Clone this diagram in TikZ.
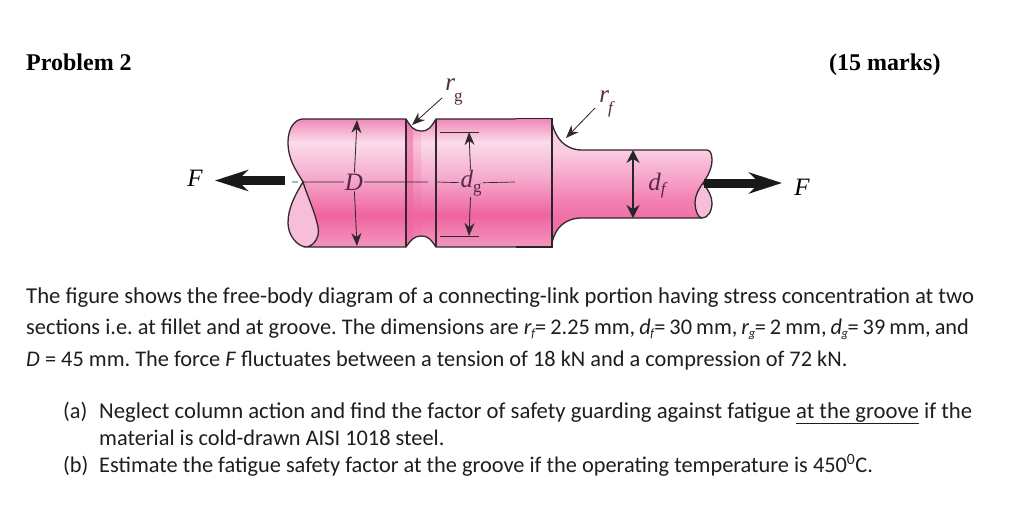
\documentclass[tikz,border=0pt]{standalone}
\usepackage{fontspec}
\setmainfont{Carlito}
\newfontfamily\figfont{Liberation Serif}
\usetikzlibrary{arrows.meta}
\definecolor{pinkA}{RGB}{243,150,190}
\definecolor{pinkB}{RGB}{238,100,160}
\definecolor{pinkC}{RGB}{245,170,205}
\definecolor{pinkD}{RGB}{251,220,233}
\definecolor{pinkE}{RGB}{240,135,185}
\definecolor{pinkF}{RGB}{240,110,165}
\definecolor{pinkG}{RGB}{243,130,180}
\definecolor{pinkH}{RGB}{247,175,208}
\definecolor{pinkI}{RGB}{250,205,225}
\definecolor{facepink}{RGB}{246,190,216}
\definecolor{outline}{RGB}{50,40,45}
\definecolor{labelpink}{RGB}{85,40,70}
\definecolor{bodytext}{RGB}{30,30,30}
\pgfdeclareverticalshading{shaftbig}{100bp}{color(0bp)=(pinkA); color(25bp)=(pinkA); color(37.5bp)=(pinkB); color(52bp)=(pinkC); color(66bp)=(pinkD); color(75bp)=(pinkE); color(100bp)=(pinkE)}
\pgfdeclareverticalshading{shaftsmall}{100bp}{color(0bp)=(pinkF); color(35bp)=(pinkF); color(43bp)=(pinkG); color(55bp)=(pinkH); color(63bp)=(pinkI); color(100bp)=(pinkI)}
\newcommand{\subtxt}[2]{\textit{#1}\kern-0.5pt\raisebox{-3pt}{\fontsize{12.5}{14}\selectfont\textit{#2}}\kern-0.5pt}
\frenchspacing
\tikzset{
	txt/.style={anchor=base west, inner sep=0pt, text=bodytext, font=\fontsize{22.35}{26}\selectfont},
	txtwide/.style={txt, font=\fontsize{22.7}{26}\selectfont},
	head/.style={anchor=base west, inner sep=0pt, font=\figfont\bfseries\fontsize{24}{28}\selectfont},
	lab/.style={inner sep=1pt, font=\figfont\itshape\fontsize{25}{28}\selectfont},
	shaftline/.style={draw=outline, line width=1.3pt},
	dimarrow/.style={-{Stealth[length=13pt,width=10pt]}, line width=0.8pt, draw=outline, fill=outline},
	loadarrow/.style={-{Stealth[length=33pt,width=21pt]}, line width=9pt, black!90}
}
\begin{document}
\begin{tikzpicture}[x=1pt,y=-1pt]
	\useasboundingbox[fill=white] (0,0) rectangle (1010,504);
	% shaft
	\path[shading=shaftbig] (303,119)--(406,119) .. controls (411,127) and (414,131) .. (421,131) .. controls (429,131) and (431,127) .. (436,119)--(552,119)--(552,247)--(436,247) .. controls (431,240) and (429,236) .. (421,236) .. controls (414,236) and (411,240) .. (406,247)--(307,247) .. controls (315,245) and (320,236) .. (318,227) .. controls (315,212) and (307,195) .. (303,182) .. controls (296,170) and (288,160) .. (288,142) .. controls (288,128) and (295,119) .. (303,119)--cycle;
	\path[shading=shaftsmall] (552,122) .. controls (555,138) and (565,150) .. (582,150)--(707,150) .. controls (711,150) and (712,156) .. (712,160) .. controls (712,168) and (708,176) .. (703,183) .. controls (698,190) and (695,196) .. (695,203) .. controls (695,210) and (698,218) .. (702,218)--(582,218) .. controls (565,218) and (555,228) .. (552,243)--cycle;
	% end faces
	\path[fill=facepink] (303,182) .. controls (295,195) and (288,208) .. (288,223) .. controls (288,235) and (297,247) .. (307,247) .. controls (315,245) and (320,236) .. (318,227) .. controls (315,212) and (307,195) .. (303,182)--cycle;
	\path[fill=facepink] (703,183) .. controls (708,190) and (712,196) .. (712,203) .. controls (712,211) and (708,218) .. (702,218) .. controls (698,218) and (695,210) .. (695,203) .. controls (695,196) and (698,190) .. (703,183)--cycle;
	% groove band
	\path[fill=pinkB, opacity=0.6] (407,121) .. controls (409,125) and (411,127) .. (413,128.5)--(413,238.5) .. controls (411,240) and (409,242) .. (407,245)--cycle;
	\path[fill=pinkB, opacity=0.2] (413,128.5) .. controls (415,130) and (417,131) .. (421,131)--(421,236) .. controls (417,236) and (415,237) .. (413,238.5)--cycle;
	% outline
	\draw[shaftline] (307,247) .. controls (297,247) and (288,235) .. (288,223) .. controls (288,208) and (295,195) .. (303,182) .. controls (307,195) and (315,212) .. (318,227) .. controls (320,236) and (315,245) .. (307,247)--(406,247) .. controls (411,240) and (414,236) .. (421,236) .. controls (429,236) and (431,240) .. (436,247)--(516,247);
	\draw[shaftline] (303,182) .. controls (296,170) and (288,160) .. (288,142) .. controls (288,128) and (295,119) .. (303,119)--(406,119) .. controls (411,127) and (414,131) .. (421,131) .. controls (429,131) and (431,127) .. (436,119)--(516,119);
	\draw[shaftline] (406,119)--(406,247) (436,119)--(436,247);
	\draw[line width=1.8pt, black!85] (516,118.5)--(552,118.5)--(552,247)--(516,247);
	\draw[shaftline] (552,122) .. controls (555,138) and (565,150) .. (582,150)--(707,150) .. controls (711,150) and (712,156) .. (712,160) .. controls (712,168) and (708,176) .. (703,183) .. controls (698,190) and (695,196) .. (695,203) .. controls (695,210) and (698,218) .. (702,218) .. controls (708,218) and (712,211) .. (712,203) .. controls (712,196) and (708,190) .. (703,183);
	\draw[shaftline] (702,218)--(582,218) .. controls (565,218) and (555,228) .. (552,243);
	% labels
	\node[lab, text=labelpink] (D) at (354,182) {D};
	\node[lab, text=labelpink] (dg) at (471,183) {d\raisebox{-5pt}{\upshape\fontsize{17}{17}\selectfont g}};
	\node[lab, text=labelpink] (df) at (657,186) {d\raisebox{-4pt}{\fontsize{17}{17}\selectfont f}};
	\node[lab] (Fleft) at (195,178) {F};
	\node[lab] (Fright) at (802,187) {F};
	\node[lab, text=labelpink] (rg) at (454,92) {r\kern-1pt\raisebox{-11pt}{\upshape\fontsize{17}{17}\selectfont g}};
	\node[lab, text=labelpink] (rf) at (606,104) {r\kern-1pt\raisebox{-11pt}{\fontsize{17}{17}\selectfont f}};
	% centre line
	\coordinate (cla) at (292,182);
	\coordinate (clb) at (298,182);
	\coordinate (clc) at (303,182);
	\coordinate (cld) at (428,182);
	\coordinate (cle) at (437,182);
	\coordinate (clf) at (515,182);
	\draw[outline, line width=0.7pt] (cla)--(clb) (clc)--(D) (D)--(cld) (cle)--(dg) (dg)--(clf);
	% D and d_g
	\coordinate (Dtop) at (357,120);
	\coordinate (Dbot) at (357,246);
	\draw[dimarrow] (D)--(Dtop);
	\draw[dimarrow] (D)--(Dbot);
	\coordinate (dgtop) at (469,132);
	\coordinate (dgbot) at (469,236);
	\draw[dimarrow] (dg)--(dgtop);
	\draw[dimarrow] (dg)--(dgbot);
	\draw[outline, line width=1pt] (440,132)--(479,132) (440,236)--(479,236);
	% d_f
	\coordinate (dftop) at (633,150);
	\coordinate (dfbot) at (633,218);
	\draw[{Stealth[length=13pt,width=13pt]}-{Stealth[length=13pt,width=13pt]}, line width=1.5pt, black!85] (dftop)--(dfbot);
	% radius pointers
	\coordinate (rgtip) at (412,125);
	\coordinate (rgend) at (442,98);
	\coordinate (rftip) at (566,138);
	\coordinate (rfend) at (595,108);
	\draw[dimarrow] (rgend)--(rgtip);
	\draw[dimarrow] (rfend)--(rftip);
	% forces
	\coordinate (Flefttail) at (285,180.5);
	\coordinate (Flefttip) at (215,180.5);
	\coordinate (Frighttail) at (704,183);
	\coordinate (Frighttip) at (782,183);
	\draw[loadarrow] (Flefttail)--(Flefttip);
	\draw[loadarrow] (Frighttail)--(Frighttip);
	% text
	\node[head] (title) at (26,70) {Problem 2};
	\node[head] (marks) at (829,70) {(15 marks)};
	\node[txtwide] (lineA) at (26,303) {The figure shows the free-body diagram of a connecting-link portion having stress concentration at two};
	\node[txt] (lineB) at (26,334) {sections i.e. at fillet and at groove. The dimensions are {\spaceskip=.8\fontdimen2\font \subtxt{r}{f}= 2.25 mm, \subtxt{d}{f}= 30 mm, \subtxt{r}{g}= 2 mm, \subtxt{d}{g}= 39 mm, and}};
	\node[txt] (lineC) at (26,366) {\textit{D} = 45 mm. The force \textit{F} fluctuates between a tension of 18 kN and a compression of 72 kN.};
	\node[txt] (parta) at (63,418) {(a)};
	\node[txtwide] (partaA) at (99,418) {Neglect column action and find the factor of safety guarding against fatigue \underline{at the groove} if the};
	\node[txt] (partaB) at (99,445) {material is cold-drawn AISI 1018 steel.};
	\node[txt] (partb) at (63,472) {(b)};
	\node[txt] (partbA) at (99,472) {Estimate the fatigue safety factor at the groove if the operating temperature is 450\textsuperscript{0}C.};
\end{tikzpicture}
\end{document}
